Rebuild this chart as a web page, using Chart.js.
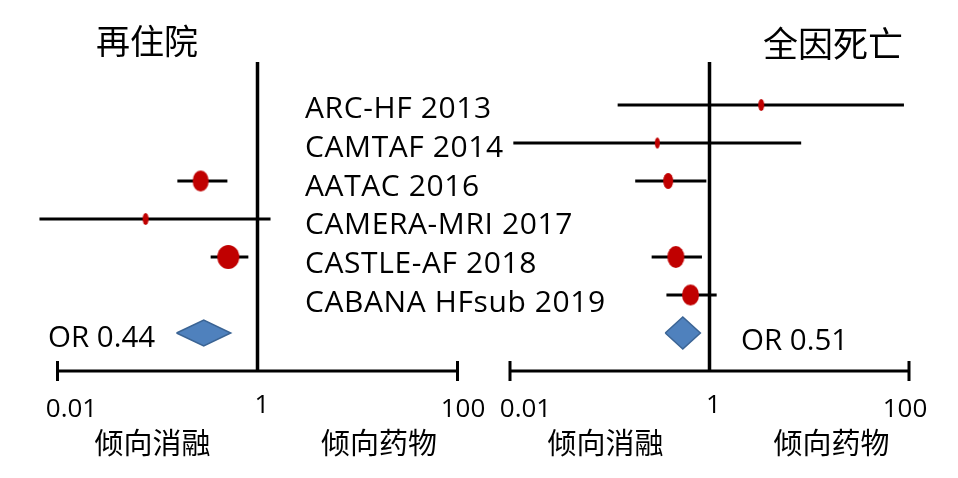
<!DOCTYPE html>
<html><head><meta charset="utf-8">
<script src="https://cdn.jsdelivr.net/npm/chart.js@4/dist/chart.umd.min.js"></script>
<style>
html,body{margin:0;padding:0;background:#fff;}
#wrap{position:relative;width:958px;height:478px;overflow:hidden;background:#fff;}
canvas{position:absolute;top:0;}
.t{position:absolute;white-space:nowrap;color:#000;line-height:1;}
.lat{font-family:"Open Sans",sans-serif;}
.cjk{font-family:"Noto Sans CJK SC",sans-serif;}
</style></head><body>
<div id="wrap">
<canvas id="cL" width="479" height="478" style="left:0px"></canvas>
<canvas id="cR" width="479" height="478" style="left:479px"></canvas>
</div>
<script>
// ---------- data ----------
const studies = ['ARC-HF 2013','CAMTAF 2014','AATAC 2016','CAMERA-MRI 2017','CASTLE-AF 2018','CABANA HFsub 2019'];
const tickValues = [0.01, 1, 100];
const tickLabels = ['0.01', '1', '100'];
const panelTitles = ['再住院', '全因死亡'];
const directionLabels = ['倾向消融', '倾向药物'];

// 再住院 (rehospitalisation)
const rehospOR   = [null, null, 0.27,  0.076,  0.51, null];
const rehospLow  = [null, null, 0.158, 0.0066, 0.34, null];
const rehospHigh = [null, null, 0.50,  1.35,   0.81, null];
const rehospPooled = [0.29, 0.155, 0.54];   // estimate, low, high (as drawn)
const rehospPooledLabel = 'OR 0.44';

// 全因死亡 (all-cause mortality)
const mortOR   = [3.3,  0.30,   0.385, null, 0.46,  0.645];
const mortLow  = [0.12, 0.0108, 0.18,  null, 0.263, 0.37];
const mortHigh = [89,   8.3,    0.93,  null, 0.84,  1.18];
const mortPooled = [0.54, 0.36, 0.81];
const mortPooledLabel = 'OR 0.51';

// ---------- styles ----------
const RED = '#C00000', BLUE = '#4F81BD', BLUE_EDGE = '#3B6494';
const markerSizeL = [[0,0],[0,0],[16,21],[6,12],[22,24],[0,0]];
const markerSizeR = [[6,12],[5,11],[10,16],[0,0],[17,22],[17,21]];

function ellipse(w, h) {
  const c = document.createElement('canvas');
  c.width = w + 2; c.height = h + 2;
  const g = c.getContext('2d');
  g.fillStyle = RED;
  g.beginPath();
  g.ellipse(c.width / 2, c.height / 2, w / 2, h / 2, 0, 0, Math.PI * 2);
  g.fill();
  return c;
}

const axisPlugin = {
  id: 'forestAxis',
  beforeDatasetsDraw(chart) {
    const {ctx, chartArea, scales: {x, y}} = chart;
    const axisY = y.getPixelForValue(studies.length + 1);
    const x0 = x.getPixelForValue(tickValues[0]);
    const x1 = x.getPixelForValue(tickValues[1]);
    const x2 = x.getPixelForValue(tickValues[2]);
    ctx.save();
    ctx.strokeStyle = '#000';
    ctx.lineCap = 'butt';
    ctx.lineWidth = 3;
    ctx.beginPath();
    ctx.moveTo(x0 - 1.5, axisY); ctx.lineTo(x2 + 1.5, axisY);
    ctx.moveTo(x0, axisY - 10); ctx.lineTo(x0, axisY + 10);
    ctx.moveTo(x2, axisY - 10); ctx.lineTo(x2, axisY + 10);
    ctx.stroke();
    ctx.lineWidth = 3.5;
    ctx.beginPath();
    ctx.moveTo(x1, chartArea.top - 24); ctx.lineTo(x1, axisY);
    ctx.stroke();
    ctx.restore();
  }
};

function buildPanel(canvasId, orv, lo, hi, pooled, sizes, pad, diamondHalf) {
  const datasets = [];
  studies.forEach((s, i) => {
    if (orv[i] == null) return;
    datasets.push({
      type: 'line',
      data: [{x: lo[i], y: i}, {x: hi[i], y: i}],
      borderColor: '#000', borderWidth: 3, pointRadius: 0,
      borderCapStyle: 'butt', clip: false, order: 3
    });
  });
  const idx = studies.map((s, i) => i).filter(i => orv[i] != null);
  datasets.push({
    type: 'scatter',
    data: idx.map(i => ({x: orv[i], y: i})),
    pointStyle: (c) => { const i = idx[c.dataIndex]; return ellipse(sizes[i][0], sizes[i][1]); },
    pointRadius: 5, clip: false, order: 1
  });
  const pr = studies.length;
  datasets.push({
    type: 'line',
    data: [
      {x: pooled[1], y: pr}, {x: pooled[0], y: pr - diamondHalf},
      {x: pooled[2], y: pr}, {x: pooled[0], y: pr + diamondHalf},
      {x: pooled[1], y: pr}
    ],
    fill: 'shape', backgroundColor: BLUE, borderColor: BLUE_EDGE, borderWidth: 1.5,
    pointRadius: 0, tension: 0, clip: false, order: 2
  });
  return new Chart(document.getElementById(canvasId), {
    type: 'scatter',
    data: {datasets},
    options: {
      responsive: false, animation: false, devicePixelRatio: 1, events: [],
      layout: {padding: pad},
      plugins: {legend: {display: false}, tooltip: {enabled: false}},
      scales: {
        x: {type: 'logarithmic', min: tickValues[0], max: tickValues[2], display: false},
        y: {type: 'linear', min: -0.5, max: studies.length + 0.5, reverse: true, display: false}
      }
    },
    plugins: [axisPlugin]
  });
}

const chartL = buildPanel('cL', rehospOR, rehospLow, rehospHigh, rehospPooled, markerSizeL,
  {left: 57.5, right: 21.5, top: 86, bottom: 126}, 0.34);
const chartR = buildPanel('cR', mortOR, mortLow, mortHigh, mortPooled, markerSizeR,
  {left: 31, right: 49, top: 86, bottom: 126}, 0.42);

// ---------- text ----------
const wrap = document.getElementById('wrap');
function addText(txt, cls, size, x, y, align, extra) {
  const d = document.createElement('div');
  d.className = 't ' + cls;
  d.textContent = txt;
  d.style.fontSize = size + 'px';
  d.style.left = x + 'px';
  d.style.top = y + 'px';
  d.style.transform = align === 'c' ? 'translate(-50%,-50%)' : 'translate(0,-50%)';
  if (extra) Object.assign(d.style, extra);
  wrap.appendChild(d);
}
addText(panelTitles[0], 'cjk', 34, 147, 40, 'c');
addText(panelTitles[1], 'cjk', 35, 833, 41, 'c');
studies.forEach((s, i) => addText(s, 'lat', 30, 305, 107 + i * 38.8, 'l', {letterSpacing: '0.6px'}));
addText(rehospPooledLabel, 'lat', 29.5, 48, 336, 'l');
addText(mortPooledLabel, 'lat', 29.5, 741, 339, 'l');

const tickOffL = [14, 4.5, 5.5], tickOffR = [15.5, 4, -4], tickDy = [407, 403, 407];
[[chartL, 0, tickOffL], [chartR, 479, tickOffR]].forEach(([ch, left, off]) => {
  tickValues.forEach((v, k) => {
    addText(tickLabels[k], 'lat', 26, left + ch.scales.x.getPixelForValue(v) + off[k], tickDy[k], 'c');
  });
});
addText(directionLabels[0], 'cjk', 29, 152.5, 441, 'c');
addText(directionLabels[1], 'cjk', 29, 379, 441, 'c');
addText(directionLabels[0], 'cjk', 29, 605.5, 441, 'c');
addText(directionLabels[1], 'cjk', 29, 831.5, 441, 'c');
</script>
</body></html>
